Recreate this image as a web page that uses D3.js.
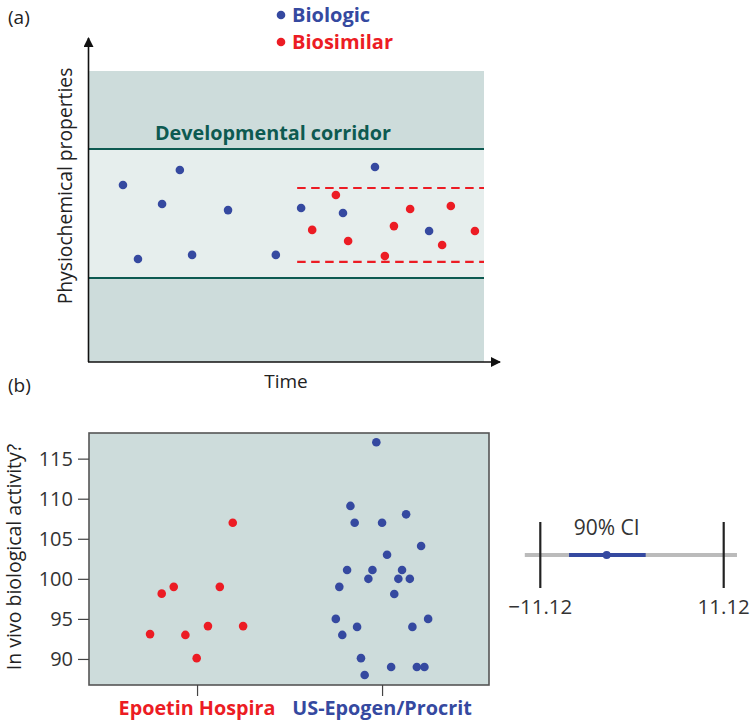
<!DOCTYPE html>
<html><head><meta charset="utf-8">
<script src="https://cdn.jsdelivr.net/npm/d3@7"></script>
<style>body{margin:0;background:#fff}svg{display:block}text{font-family:"Open Sans","Noto Sans",sans-serif}</style>
</head><body>
<script>
// ---------- Panel (a) data ----------
const biologicTime  = [8.6,12.4,18.5,23.0,26.1,35.2,47.3,53.7,64.3,72.4,86.1];
const biologicProp  = [60.8,35.4,54.3,66.0,36.8,52.2,36.8,52.9,51.2,67.0,45.0];
const biosimTime    = [56.5,62.5,65.6,74.9,77.2,81.3,89.4,91.6,97.7];
const biosimProp    = [45.4,57.4,41.6,36.4,46.7,52.6,40.2,53.6,45.0];
const corridorLimits = [28.9, 73.2];
const biosimLimits   = [34.4, 59.8];
const biosimStart    = 52.7;
const legendLabels   = ["Biologic","Biosimilar"];

// ---------- Panel (b) data ----------
const categories = ["Epoetin Hospira","US-Epogen/Procrit"];
const hospiraValues = [93.1,98.15,99.0,93.0,90.1,94.1,99.0,107.0,94.1];
const hospiraJitter = [-0.254,-0.191,-0.126,-0.063,-0.002,0.059,0.123,0.193,0.249];
const epogenValues = [117.05,109.1,107.0,107.0,108.05,104.1,103.0,101.1,101.1,101.1,100.0,100.0,100.0,99.0,98.1,95.0,95.0,94.0,94.0,93.0,90.1,89.0,89.0,89.0,88.0];
const epogenJitter = [-0.031,-0.171,-0.148,0,0.130,0.211,0.027,-0.189,-0.052,0.108,-0.074,0.088,0.150,-0.231,0.066,-0.250,0.249,-0.135,0.164,-0.215,-0.114,0.049,0.188,0.229,-0.094];
const yTicks = [90,95,100,105,110,115];

// ---------- CI data ----------
const ciLimits = [-11.12, 11.12];
const ciInterval = [-7.64, 1.66];
const ciPoint = -3.07;
const ciLabel = "90% CI";

const BLUE = "#3549a0", RED = "#ec1c24", TEAL = "#0d5a51";
const W = 750, H = 722;
const svg = d3.select("body").append("svg").attr("width", W).attr("height", H);

// ===== Panel (a) =====
const ax = d3.scaleLinear().domain([0,100]).range([89,484]);
const ay = d3.scaleLinear().domain([0,100]).range([362,71]);
const ga = svg.append("g");
ga.append("rect").attr("x",ax(0)).attr("y",ay(100)).attr("width",ax(100)-ax(0)).attr("height",ay(0)-ay(100)).attr("fill","#cddcdb");
ga.append("rect").attr("x",ax(0)).attr("y",ay(corridorLimits[1])).attr("width",ax(100)-ax(0)).attr("height",ay(corridorLimits[0])-ay(corridorLimits[1])).attr("fill","#e6eeed");
corridorLimits.forEach(v=>{
  ga.append("line").attr("x1",ax(0)).attr("x2",ax(100)).attr("y1",ay(v)).attr("y2",ay(v)).attr("stroke",TEAL).attr("stroke-width",2);
});
biosimLimits.forEach(v=>{
  ga.append("line").attr("x1",ax(biosimStart)).attr("x2",ax(100)).attr("y1",ay(v)).attr("y2",ay(v)).attr("stroke",RED).attr("stroke-width",2.2).attr("stroke-dasharray","8.5,5.5");
});
ga.append("text").attr("x",273).attr("y",140).attr("text-anchor","middle").attr("font-size",19.8).attr("font-weight","bold").attr("fill",TEAL).text("Developmental corridor");

// axes with arrows
const defs = svg.append("defs");
defs.append("marker").attr("id","arr").attr("viewBox","0 0 10 10").attr("refX",9).attr("refY",5).attr("markerWidth",10).attr("markerHeight",10).attr("markerUnits","userSpaceOnUse").attr("orient","auto")
  .append("path").attr("d","M0,0 L10,5 L0,10 Z").attr("fill","#111");
ga.append("line").attr("x1",88.5).attr("y1",ay(0)).attr("x2",88.5).attr("y2",38).attr("stroke","#111").attr("stroke-width",1.6).attr("marker-end","url(#arr)");
ga.append("line").attr("x1",88).attr("y1",362).attr("x2",500).attr("y2",362).attr("stroke","#111").attr("stroke-width",1.6).attr("marker-end","url(#arr)");

ga.selectAll("circle.bio").data(biologicTime).join("circle").attr("class","bio")
  .attr("cx",(d)=>ax(d)).attr("cy",(d,i)=>ay(biologicProp[i])).attr("r",4.3).attr("fill",BLUE);
ga.selectAll("circle.sim").data(biosimTime).join("circle").attr("class","sim")
  .attr("cx",(d)=>ax(d)).attr("cy",(d,i)=>ay(biosimProp[i])).attr("r",4.3).attr("fill",RED);

ga.append("text").attr("x",286).attr("y",388).attr("text-anchor","middle").attr("font-size",19).attr("fill","#222").text("Time");
ga.append("text").attr("transform","translate(72,186) rotate(-90)").attr("text-anchor","middle").attr("font-size",19.3).attr("fill","#222").text("Physiochemical properties");
svg.append("text").attr("x",8).attr("y",24).attr("font-size",19).attr("fill","#222").text("(a)");
svg.append("text").attr("x",8).attr("y",392).attr("font-size",19).attr("fill","#222").text("(b)");

// legend
[BLUE, RED].forEach((c,i)=>{
  svg.append("circle").attr("cx",281).attr("cy",15+i*27).attr("r",4.3).attr("fill",c);
  svg.append("text").attr("x",292).attr("y",22+i*27).attr("font-size",20).attr("font-weight","bold").attr("fill",c).text(legendLabels[i]);
});

// ===== Panel (b) =====
const bx = d3.scaleLinear().domain([-0.584, 1.578]).range([89,489]);
const by = d3.scaleLinear().domain([86.75, 118.2]).range([685,433]);
const gb = svg.append("g");
gb.append("rect").attr("x",89).attr("y",433).attr("width",400).attr("height",252).attr("fill","#cddcdb").attr("stroke","#555").attr("stroke-width",1.6);
const yAxis = gb.append("g").attr("transform","translate(89,0)").call(d3.axisLeft(by).tickValues(yTicks).tickSize(11).tickPadding(5));
yAxis.select(".domain").remove();
yAxis.selectAll(".tick line").attr("stroke","#444").attr("stroke-width",1.2);
yAxis.selectAll(".tick text").attr("font-size",20).attr("fill","#333").attr("font-family","'Open Sans',sans-serif");
const xAxis = gb.append("g").attr("transform","translate(0,685)").call(d3.axisBottom(bx).tickValues([0,1]).tickSize(11).tickFormat(()=>""));
xAxis.select(".domain").remove();
xAxis.selectAll(".tick line").attr("stroke","#444").attr("stroke-width",1.2);
[RED, BLUE].forEach((c,i)=>{
  gb.append("text").attr("x",bx(i)).attr("y",715).attr("text-anchor","middle").attr("font-size",19.8).attr("font-weight","bold").attr("fill",c).text(categories[i]);
});
gb.selectAll("circle.h").data(hospiraValues).join("circle").attr("class","h")
  .attr("cx",(d,i)=>bx(0+hospiraJitter[i])).attr("cy",d=>by(d)).attr("r",4.3).attr("fill",RED);
gb.selectAll("circle.e").data(epogenValues).join("circle").attr("class","e")
  .attr("cx",(d,i)=>bx(1+epogenJitter[i])).attr("cy",d=>by(d)).attr("r",4.3).attr("fill",BLUE);
gb.append("text").attr("transform","translate(21,557) rotate(-90)").attr("text-anchor","middle").attr("font-size",19.5).attr("fill","#222").text("In vivo biological activity?");

// ===== CI panel =====
const cx = d3.scaleLinear().domain(ciLimits).range([540.3,723.7]);
const gc = svg.append("g");
gc.append("line").attr("x1",cx(-13)).attr("x2",cx(12.73)).attr("y1",555).attr("y2",555).attr("stroke","#bbbbbb").attr("stroke-width",4);
gc.append("line").attr("x1",cx(ciInterval[0])).attr("x2",cx(ciInterval[1])).attr("y1",555).attr("y2",555).attr("stroke",BLUE).attr("stroke-width",4);
gc.append("circle").attr("cx",cx(ciPoint)).attr("cy",555).attr("r",4).attr("fill",BLUE);
ciLimits.forEach(v=>{
  gc.append("line").attr("x1",cx(v)).attr("x2",cx(v)).attr("y1",522).attr("y2",588).attr("stroke","#222").attr("stroke-width",2.2);
  gc.append("text").attr("x",cx(v)).attr("y",614).attr("text-anchor","middle").attr("font-size",20.5).attr("fill","#333").text(v<0?"\u2212"+Math.abs(v).toFixed(2):v.toFixed(2));
});
gc.append("text").attr("x",cx(ciPoint)).attr("y",535).attr("text-anchor","middle").attr("font-size",21).attr("fill","#333").text(ciLabel);
</script>
</body></html>
